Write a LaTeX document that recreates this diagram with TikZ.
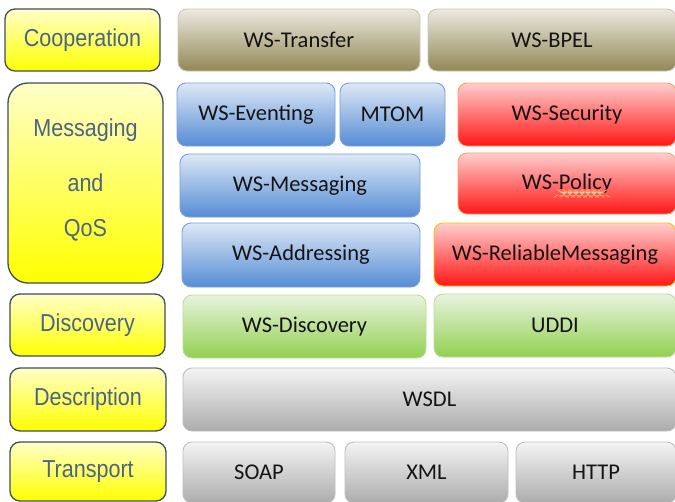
\documentclass[tikz,border=0pt]{standalone}
\usepackage{fontspec}
\setmainfont{Carlito}
\newfontfamily\labfont{Liberation Sans}[FakeStretch=0.88]

\definecolor{labtext}{HTML}{4A6485}
\definecolor{labborder}{HTML}{3E4E5E}

\tikzset{
  base/.style={rounded corners=9pt, line width=0.9pt, inner sep=0pt,
    font=\fontsize{22.5}{24}\selectfont, text=black!92},
  labelfont/.style={font=\labfont\fontsize{24.5}{26}\selectfont, text=labtext},
  layer/.style={base, rounded corners=10pt, line width=1.3pt, draw=labborder,
    top color={rgb,255:red,255;green,255;blue,200}, bottom color={rgb,255:red,255;green,255;blue,0},
    labelfont},
  olive/.style={base, draw={rgb,255:red,205;green,200;blue,180},
    top color={rgb,255:red,236;green,233;blue,224}, bottom color={rgb,255:red,145;green,136;blue,86}},
  blue/.style={base, draw={rgb,255:red,120;green,160;blue,220},
    top color={rgb,255:red,222;green,232;blue,246}, bottom color={rgb,255:red,85;green,140;blue,212}},
  red/.style={base, draw={rgb,255:red,250;green,160;blue,100},
    top color={rgb,255:red,255;green,206;blue,206}, bottom color={rgb,255:red,255;green,22;blue,22}},
  redgold/.style={red, draw={rgb,255:red,255;green,192;blue,0}},
  green/.style={base, draw={rgb,255:red,185;green,222;blue,155},
    top color={rgb,255:red,232;green,243;blue,222}, bottom color={rgb,255:red,146;green,208;blue,80}},
  grey/.style={base, draw={rgb,255:red,190;green,190;blue,190},
    top color={rgb,255:red,244;green,244;blue,244}, bottom color={rgb,255:red,172;green,172;blue,172}},
}

% \blk{style}{name}{x1}{y1}{x2}{y2}{text}
\newcommand\blk[7]{%
  \pgfmathsetmacro\bw{#5-#3}\pgfmathsetmacro\bh{#6-#4}%
  \pgfmathsetmacro\bx{(#3+#5)/2}\pgfmathsetmacro\by{(#4+#6)/2}%
  \node[#1, minimum width=\bw pt, minimum height=\bh pt, align=center] (#2) at (\bx,\by) {#7};%
}

\begin{document}
\begin{tikzpicture}[x=1pt, y=-1pt]
  \path[use as bounding box, fill=white] (0,0) rectangle (675,501);

  % layer labels
  \blk{layer}{coop}{5}{9}{160}{71}{Cooperation}
  \blk{layer, rounded corners=20pt}{msg}{8}{83}{163}{283}{}
  \node[labelfont] (msgA) at (85.5,130) {Messaging};
  \node[labelfont] (msgB) at (85.5,183) {and};
  \node[labelfont] (msgC) at (85.5,230) {QoS};
  \blk{layer}{disc}{10}{294}{165}{356}{Discovery}
  \blk{layer}{desc}{10}{368}{166}{431}{Description}
  \blk{layer}{trans}{10}{442}{166}{501}{Transport}

  % cooperation
  \blk{olive}{transfer}{178}{9}{420}{71}{WS-Transfer}
  \blk{olive}{bpel}{428}{9}{676}{71}{WS-BPEL}

  % messaging and QoS
  \blk{blue}{eventing}{177}{83}{335}{146}{WS-Eventing}
  \blk{blue}{mtom}{340}{83}{445}{146}{MTOM}
  \blk{red}{security}{458}{83}{676}{146}{WS-Security}
  \blk{blue}{messaging}{180}{154}{420}{217}{WS-Messaging}
  \blk{red}{policy}{458}{153}{676}{214}{WS-Policy}
  \blk{blue}{addressing}{182}{223}{420}{287}{WS-Addressing}
  \blk{redgold}{reliable}{434}{223}{676}{286}{WS-ReliableMessaging}

  % spell-check squiggle under "Policy"
  \draw[red, line width=0.5pt, line join=round]
    plot[domain=0:48, samples=17] ({558+\x}, {193.5+((-1)^(\x/3))});

  % discovery
  \blk{green}{wsdisc}{183}{295}{426}{358}{WS-Discovery}
  \blk{green}{uddi}{434}{294}{676}{357}{UDDI}

  % description
  \blk{grey}{wsdl}{183}{368}{676}{431}{WSDL}

  % transport
  \blk{grey}{soap}{183}{442}{335}{503}{SOAP}
  \blk{grey}{xml}{345}{442}{508}{503}{XML}
  \blk{grey}{http}{516}{442}{676}{503}{HTTP}
\end{tikzpicture}
\end{document}
